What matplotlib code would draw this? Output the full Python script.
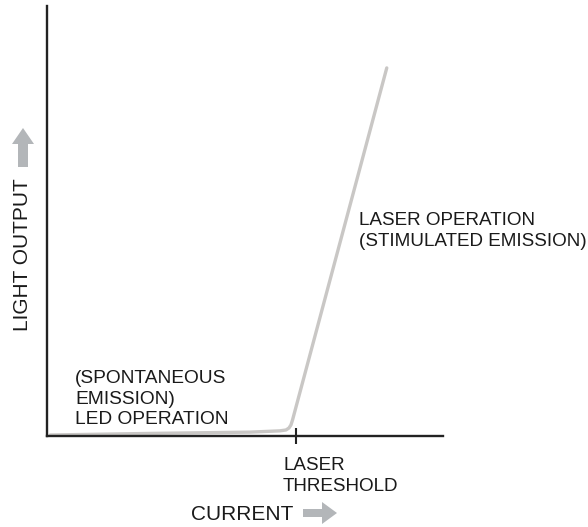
import matplotlib
matplotlib.use("Agg")
import matplotlib.pyplot as plt
from matplotlib.patches import FancyArrow

plt.rcParams['font.family'] = ['Liberation Sans', 'DejaVu Sans']

# curva luz-corriente (unidades arbitrarias 0-100)
corriente = [0.8, 26, 51.3, 58.8, 60.35, 61.1, 61.6, 62.0, 85.8]
luz = [0.23, 0.6, 0.9, 1.2, 1.4, 1.86, 2.56, 3.72, 85.6]
umbral = 62.9

W, H = 588, 527
fig = plt.figure(figsize=(W / 100, H / 100), dpi=100)
ax = fig.add_axes([47 / W, 1 - 436 / H, 396 / W, 430 / H])

ax.plot(corriente, luz, color='#c9c7c5', lw=2.4, solid_capstyle='round',
        solid_joinstyle='round')

ax.set_xlim(0, 100)
ax.set_ylim(0, 100)
for s in ['top', 'right']:
    ax.spines[s].set_visible(False)
for s in ['left', 'bottom']:
    ax.spines[s].set_linewidth(1.7)
    ax.spines[s].set_color('#222222')
ax.set_yticks([])
ax.set_xticks([umbral])
ax.set_xticklabels([''])
ax.tick_params(axis='x', direction='inout', length=11, width=1.5, color='#222222')

tc = '#1a1a1a'
ax.text(78.8, 52.1, 'LASER OPERATION\n(STIMULATED EMISSION)', fontsize=13.6,
        color=tc, ha='left', va='top', linespacing=1.3)
ax.text(7.1, 15.3, '(SPONTANEOUS\nEMISSION)\nLED OPERATION', fontsize=13.8,
        color=tc, ha='left', va='top', linespacing=1.28)
ax.text(59.6, -4.9, 'LASER\nTHRESHOLD', fontsize=13.6, color=tc,
        ha='left', va='top', linespacing=1.3, clip_on=False)

fig.text(293 / W, 1 - 514 / H, 'CURRENT', fontsize=15, color=tc,
         ha='right', va='center')
fig.text(23 / W, 1 - 255 / H, 'LIGHT OUTPUT', fontsize=15, color=tc,
         rotation=90, ha='center', va='center')

# flechas grises
gris = '#b3b6b9'
tr = fig.dpi_scale_trans
fig.patches.append(FancyArrow(303 / 100, (H - 513) / 100, 34 / 100, 0,
                              width=8 / 100, head_width=22 / 100,
                              head_length=15 / 100, length_includes_head=True,
                              color=gris, lw=0, transform=tr, figure=fig))
fig.patches.append(FancyArrow(23 / 100, (H - 167) / 100, 0, 39 / 100,
                              width=10 / 100, head_width=22 / 100,
                              head_length=16 / 100, length_includes_head=True,
                              color=gris, lw=0, transform=tr, figure=fig))

fig.savefig('out.png', dpi=100)
